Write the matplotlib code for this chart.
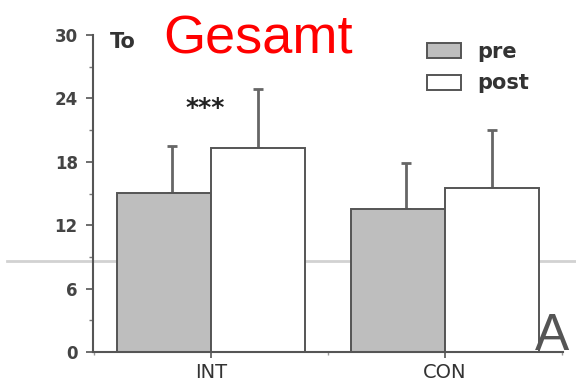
import matplotlib
matplotlib.use("Agg")
import matplotlib.pyplot as plt
from matplotlib.patches import Patch
from matplotlib.lines import Line2D
from matplotlib.ticker import MultipleLocator
import numpy as np

categories = ["INT", "CON"]
pre_means = [15.05, 13.5]
pre_sd = [4.45, 4.4]
post_means = [19.35, 15.5]
post_sd = [5.5, 5.5]
series_labels = ["pre", "post"]
y_ticks = [0, 6, 12, 18, 24, 30]

fig = plt.figure(figsize=(5.76, 3.82), dpi=100)
fig.patch.set_facecolor("white")
ax = fig.add_axes([93/576, 1-352/382, (563-93)/576, (352-35)/382])
ax.set_facecolor("none")

# scan artifact line behind bars
fig.add_artist(Line2D([7/576, 1.0], [1-261/382, 1-261/382], color="#d2d2d2",
                      lw=2, zorder=0))

x = np.arange(len(categories))
w = 0.40
edge = "#555555"
ax.bar(x - w/2, pre_means, width=w, color="#bebebe", edgecolor=edge, linewidth=1.4, zorder=2)
ax.bar(x + w/2, post_means, width=w, color="white", edgecolor=edge, linewidth=1.4, zorder=2)
off = 0.035
ax.errorbar(x - w/2 + off, pre_means, yerr=[np.zeros(2), pre_sd], fmt="none",
            ecolor="#666666", elinewidth=2, capsize=3.6, capthick=2, zorder=1)
ax.errorbar(x + w/2, post_means, yerr=[np.zeros(2), post_sd], fmt="none",
            ecolor="#666666", elinewidth=2, capsize=3.6, capthick=2, zorder=1)

ax.set_xlim(-0.504, 1.504)
ax.set_ylim(0, 30)
ax.set_yticks(y_ticks)
ax.yaxis.set_minor_locator(MultipleLocator(3))
ax.set_xticks(x)
ax.set_xticks([-0.5, 0.5, 1.5], minor=True)
ax.set_xticklabels(categories)

for s in ["top", "right"]:
    ax.spines[s].set_visible(False)
for s in ["left", "bottom"]:
    ax.spines[s].set_color("#555555")
    ax.spines[s].set_linewidth(1.5)

ax.tick_params(axis="y", which="major", length=5, width=1.2, color="#555555",
               pad=6, labelsize=12, labelcolor="#444444")
ax.tick_params(axis="y", which="minor", length=3, width=1, color="#777777")
ax.tick_params(axis="x", which="major", length=4, width=1.2, color="#555555",
               pad=4, labelsize=14, labelcolor="#333333")
ax.tick_params(axis="x", which="minor", length=2, width=1, color="#999999")
for lab in ax.get_yticklabels():
    lab.set_fontweight("bold")
    lab.set_family("DejaVu Sans")
for lab in ax.get_xticklabels():
    lab.set_family("DejaVu Sans")

fig.text(110/576, 1-42/382, "To", fontsize=15, fontweight="bold",
         color="#333333", ha="left", va="center", family="DejaVu Sans")
ax.text(-0.026, 23.1, "***", fontsize=18, fontweight="bold", color="#222222",
        ha="center", va="center")

handles = [Patch(facecolor="#bebebe", edgecolor=edge, linewidth=1.4),
           Patch(facecolor="white", edgecolor=edge, linewidth=1.4)]
leg = ax.legend(handles, series_labels, loc="upper left",
                bbox_to_anchor=(427/576, 1-42/382), bbox_transform=fig.transFigure,
                frameon=False, borderpad=0, borderaxespad=0,
                handlelength=1.63, handleheight=0.72, handletextpad=0.8,
                labelspacing=0.55, prop={"family": "DejaVu Sans", "weight": "bold", "size": 15})
for t in leg.get_texts():
    t.set_color("#333333")

fig.text(258/576, 1-53/382, "Gesamt", color="#ff0000", fontsize=39,
         family="Liberation Sans", ha="center", va="baseline")
fig.text(552/576, 1-350/382, "A", color="#555555", fontsize=37,
         family="Liberation Sans", ha="center", va="baseline")

fig.savefig("out.png", dpi=100)
